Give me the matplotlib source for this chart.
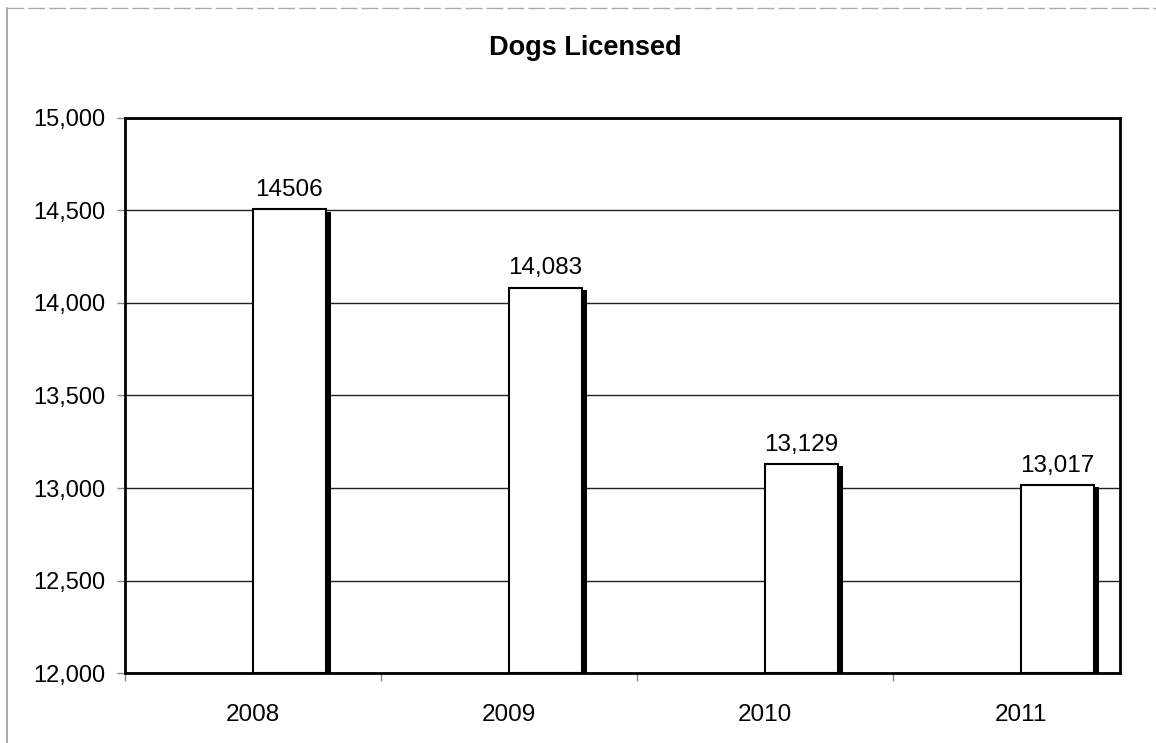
import matplotlib
matplotlib.use('Agg')
import matplotlib.pyplot as plt
from matplotlib.lines import Line2D
from matplotlib.ticker import FuncFormatter, FixedLocator

# datos del grafico
anos = ['2008', '2009', '2010', '2011']
licencas = [14506, 14083, 13129, 13017]
rotulos = ['14506', '14,083', '13,129', '13,017']

plt.rcParams['font.family'] = ['Liberation Sans', 'DejaVu Sans']

fig = plt.figure(figsize=(11.56, 7.43), dpi=100)
ax = fig.add_axes([0.108, 0.0942, 0.861, 0.747])

x = list(range(len(anos)))
largura = 0.285
base = 12000

# barras brancas com contorno, comecando no centro da categoria
ax.bar(x, [v - base for v in licencas], width=largura, bottom=base, align='edge',
       color='white', edgecolor='black', linewidth=1.5, zorder=3)
# sombra preta do lado direito
ax.bar([xi + largura for xi in x], [v - base - 12 for v in licencas], width=0.02,
       bottom=base, align='edge', color='black', linewidth=0, zorder=3)

for xi, v, r in zip(x, licencas, rotulos):
    ax.text(xi + largura / 2, v + 45, r, ha='center', va='bottom', fontsize=17.5, zorder=4)

ax.set_ylim(12000, 15000)
ax.set_xlim(-0.5, 3.387)
ax.set_yticks(range(12000, 15001, 500))
ax.yaxis.set_major_formatter(FuncFormatter(lambda v, p: f'{int(v):,}'))
ax.grid(axis='y', color='#222222', linewidth=1.0, zorder=1)

ax.set_xticks(x)
ax.set_xticklabels(anos)
ax.xaxis.set_minor_locator(FixedLocator([-0.5, 0.5, 1.5, 2.5]))
ax.tick_params(axis='x', which='major', length=0, pad=22, labelsize=17.5)
ax.tick_params(axis='x', which='minor', length=6, color='#888888', width=1)
ax.tick_params(axis='y', length=6, color='#888888', width=1, labelsize=17, pad=8)

for s in ax.spines.values():
    s.set_linewidth(2)
    s.set_color('black')
    s.set_zorder(5)

fig.text(0.506, 0.936, 'Dogs Licensed', ha='center', va='center', fontsize=19.5, fontweight='bold')

# moldura do grafico (esquerda e topo)
fig.add_artist(Line2D([0.006, 0.006], [0.0, 0.989], transform=fig.transFigure,
                      color='#999999', linewidth=1.2))
fig.add_artist(Line2D([0.006, 1.0], [0.989, 0.989], transform=fig.transFigure,
                      color='#aaaaaa', linewidth=1.0, linestyle=(0, (12, 3))))

fig.savefig('out.png', dpi=100)
